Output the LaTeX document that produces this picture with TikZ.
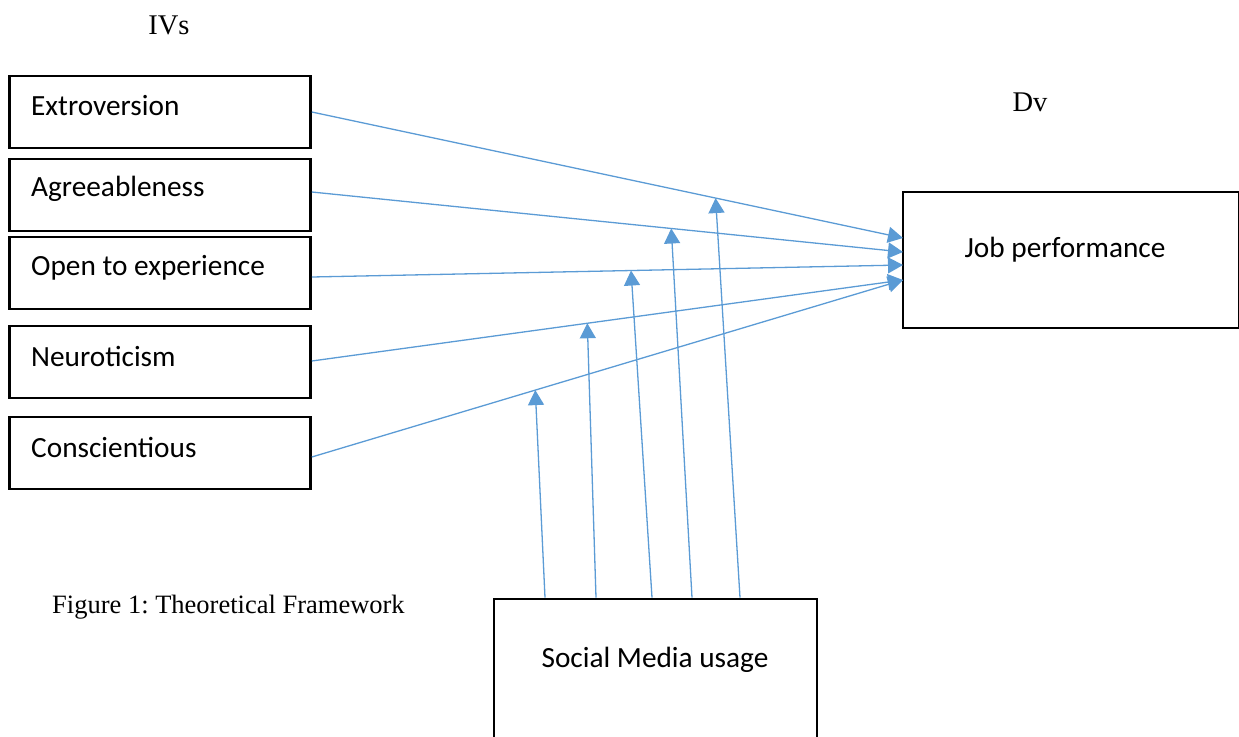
\documentclass[tikz,border=0pt]{standalone}
\usepackage{fontspec}
\setmainfont{Liberation Serif}
\newfontfamily\boxfont{Carlito}
\usetikzlibrary{arrows.meta}
\frenchspacing
\definecolor{linkblue}{HTML}{5B9BD5}
\tikzset{
  boxlabel/.style={font=\boxfont\fontsize{29.3}{34}\selectfont, inner sep=0pt},
  ivbox/.style={draw=black, line width=2.6pt, minimum width=301pt, minimum height=72pt,
    inner sep=0pt},
  ivtext/.style={boxlabel, anchor=west},
  bigbox/.style={draw=black, line width=2.6pt, inner sep=0pt},
  link/.style={draw=linkblue, line width=1.3pt, -{Triangle[width=16pt,length=15pt]}},
  heading/.style={font=\fontsize{28.5}{33}\selectfont, inner sep=0pt},
  caption/.style={font=\fontsize{26.5}{31}\selectfont, inner sep=0pt}
}
\begin{document}
\begin{tikzpicture}[x=1pt,y=-1pt]
\useasboundingbox (0,0) rectangle (1239,736);

% headings
\node[heading] (ivs) at (169,25) {IVs};
\node[heading] (dv) at (1030,102) {Dv};
\node[caption, anchor=west] (fig) at (52,607) {Figure 1: Theoretical Framework};

% independent variables
\node[ivbox] (ext) at (160,112) {};
\node[ivtext] at (31,106) {Extroversion};
\node[ivbox] (agr) at (160,195) {};
\node[ivtext] at (31,189) {Agreeableness};
\node[ivbox] (ope) at (160,273) {};
\node[ivtext] at (31,268) {Open to experience};
\node[ivbox] (neu) at (160,362) {};
\node[ivtext] at (31,356) {Neuroticism};
\node[ivbox] (con) at (160,453) {};
\node[ivtext] at (31,447) {Conscientious};

% dependent variable
\node[bigbox, minimum width=336pt, minimum height=136pt] (jp) at (1071,260) {};
\node[boxlabel] at (1065,250) {Job performance};

% moderator (runs off the bottom edge)
\node[bigbox, minimum width=323pt, minimum height=160pt] (sm) at (655.5,679) {};
\node[boxlabel] at (655,660) {Social Media usage};

% direct effects
\coordinate (jp1) at (903,238);
\coordinate (jp2) at (903,252);
\coordinate (jp3) at (903,265);
\coordinate (jp4) at (903,280);
\draw[link] (ext.east |- 0,112) -- coordinate[pos=0.683] (m1) (jp1);
\draw[link] (agr.east |- 0,192) -- coordinate[pos=0.608] (m2) (jp2);
\draw[link] (ope.east |- 0,277) -- coordinate[pos=0.540] (m3) (jp3);
\draw[link] (neu.east |- 0,361) -- coordinate[pos=0.466] (m4) (jp4);
\draw[link] (con.east |- 0,457) -- coordinate[pos=0.378] (m5) (jp4);

% moderating effects
\draw[link] (sm.north west -| 545,0) -- (m5);
\draw[link] (sm.north west -| 596,0) -- (m4);
\draw[link] (sm.north west -| 652,0) -- (m3);
\draw[link] (sm.north west -| 692,0) -- (m2);
\draw[link] (sm.north west -| 740,0) -- (m1);
\end{tikzpicture}
\end{document}
